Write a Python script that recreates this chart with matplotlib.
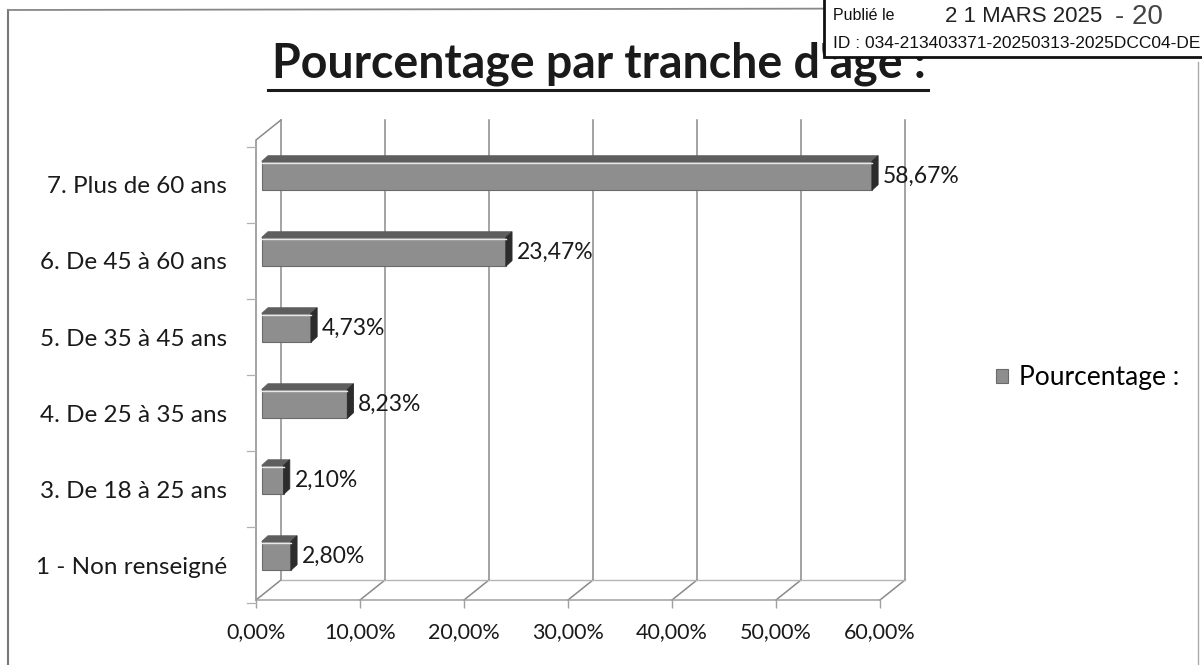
import matplotlib
matplotlib.use('Agg')
import matplotlib.pyplot as plt
from matplotlib.patches import Polygon, Rectangle
from matplotlib.lines import Line2D

categories = ["1 - Non renseigné", "3. De 18 à 25 ans", "4. De 25 à 35 ans",
              "5. De 35 à 45 ans", "6. De 45 à 60 ans", "7. Plus de 60 ans"]
values = [2.80, 2.10, 8.23, 4.73, 23.47, 58.67]
xticks = [0, 10, 20, 30, 40, 50, 60]
series_name = "Pourcentage :"
title = "Pourcentage par tranche d'âge :"

plt.rcParams['font.family'] = ['Lato', 'DejaVu Sans']

W, H = 1202, 665
fig = plt.figure(figsize=(W / 100, H / 100), dpi=100)

# zone du graphe : 0% -> px 256, 60% -> px 880 ; sol avant px 600, haut px 120
ylo, yhi = -0.46, 5.855
ax = fig.add_axes([256 / W, (H - 600) / H, 624 / W, 480 / H])
ax.set_xlim(0, 60)
ax.set_ylim(ylo, yhi)

# profondeur 3D (unités de données)
DX, DY = 2.4, 0.263
BAR_DX, BAR_DY = 0.55, 0.12
BD_X, BD_Y = 0.6, 0.075
HALF = 0.19
grid_c = '#8a8a8a'

# murs et quadrillage
for t in xticks:
    ax.plot([t + DX, t + DX], [ylo + DY, yhi], color=grid_c, lw=1.1, clip_on=False)
    ax.plot([t, t + DX], [ylo, ylo + DY], color=grid_c, lw=1.1, clip_on=False)
ax.plot([DX, xticks[-1] + DX], [ylo + DY, ylo + DY], color='#b5b5b5', lw=1.0, clip_on=False)
ax.plot([0, 0, DX], [ylo, yhi - DY, yhi], color=grid_c, lw=1.1, clip_on=False)
for i in range(len(categories) + 1):
    yy = i - 0.5
    ax.plot([-0.9, 0], [yy, yy], color='#b0b0b0', lw=0.9, clip_on=False)

# barres en pseudo 3D
for i, v in enumerate(values):
    x0 = BAR_DX
    x1 = BAR_DX + v
    yb = i + BAR_DY - HALF
    yt = i + BAR_DY + HALF
    ax.barh(i + BAR_DY, v, left=x0, height=2 * HALF, color='#8e8e8e',
            edgecolor='#6a6a6a', lw=0.8, zorder=3,
            label=series_name if i == 0 else None)
    top = Polygon([(x0, yt), (x1, yt), (x1 + BD_X, yt + BD_Y), (x0 + BD_X, yt + BD_Y)],
                  closed=True, facecolor='#5e5e5e', edgecolor='#5e5e5e', lw=0.6, zorder=3)
    side = Polygon([(x1, yb), (x1, yt), (x1 + BD_X, yt + BD_Y), (x1 + BD_X, yb + BD_Y)],
                   closed=True, facecolor='#2c2c2c', edgecolor='#2c2c2c', lw=0.6, zorder=3)
    ax.add_patch(top)
    ax.add_patch(side)
    ax.plot([x0, x1], [yt - 0.015, yt - 0.015], color='#e8e8e8', lw=1.0, zorder=4)
    ax.text(x1 + BD_X + 0.45, i + BAR_DY, f"{v:.2f}%".replace('.', ','),
            ha='left', va='center', fontsize=16.5, color='#1a1a1a', zorder=5)

# axes
for s in ['left', 'top', 'right']:
    ax.spines[s].set_visible(False)
ax.spines['bottom'].set_color('#a0a0a0')
ax.spines['bottom'].set_linewidth(1.1)
ax.set_xticks(xticks)
ax.set_xticklabels([f"{t:.2f}%".replace('.', ',') for t in xticks], fontsize=15.5, color='#1a1a1a')
ax.tick_params(axis='x', length=6, width=1.0, color='#a0a0a0', pad=10)
ax.set_yticks(range(len(categories)))
ax.set_yticklabels(categories, fontsize=17.5, color='#1a1a1a')
ax.tick_params(axis='y', length=0, pad=21)

# titre souligné
ttl = fig.text(272 / W, 1 - 64 / H, title, ha='left', va='center', fontsize=33.5,
               fontweight='bold', color='#1a1a1a')
fig.canvas.draw()
bb = ttl.get_window_extent()
fig.add_artist(Line2D([bb.x0 / W - 0.003, bb.x1 / W + 0.002], [1 - 90 / H, 1 - 90 / H],
                      color='#1a1a1a', lw=2.2))

# légende
fig.legend(loc='center left', bbox_to_anchor=(972 / W, 1 - 378 / H), frameon=False,
           fontsize=19, handlelength=0.45, handleheight=0.45, handletextpad=0.45)

# cadre
fig.add_artist(Line2D([8 / W, 8 / W], [0, 1 - 10 / H], color='#777777', lw=1.5))
fig.add_artist(Line2D([8 / W, 1], [1 - 10 / H, 1 - 8 / H], color='#888888', lw=1.3))
fig.add_artist(Line2D([1198 / W, 1198 / W], [0, 1 - 62 / H], color='#aaaaaa', lw=1.0))

# tampon
fig.add_artist(Rectangle((824 / W, 1 - 57 / H), 400 / W, 70 / H, facecolor='white',
                         edgecolor='#111111', lw=2, zorder=10))
fig.text(833 / W, 1 - 16 / H, "Publié le", ha='left', va='center', fontsize=11.5,
         family='Liberation Sans', color='#111111', zorder=11)
fig.text(945 / W, 1 - 16 / H, "2 1 MARS 2025", ha='left', va='center', fontsize=16,
         family='Liberation Sans', color='#222222', zorder=11)
fig.text(1115 / W, 1 - 17 / H, "- 20", ha='left', va='center', fontsize=20,
         family='Liberation Sans', color='#444444', zorder=11)
fig.text(833 / W, 1 - 43 / H, "ID : 034-213403371-20250313-2025DCC04-DE", ha='left',
         va='center', fontsize=12.5, family='Liberation Sans', color='#111111', zorder=11)

fig.savefig('out.png', dpi=100)
